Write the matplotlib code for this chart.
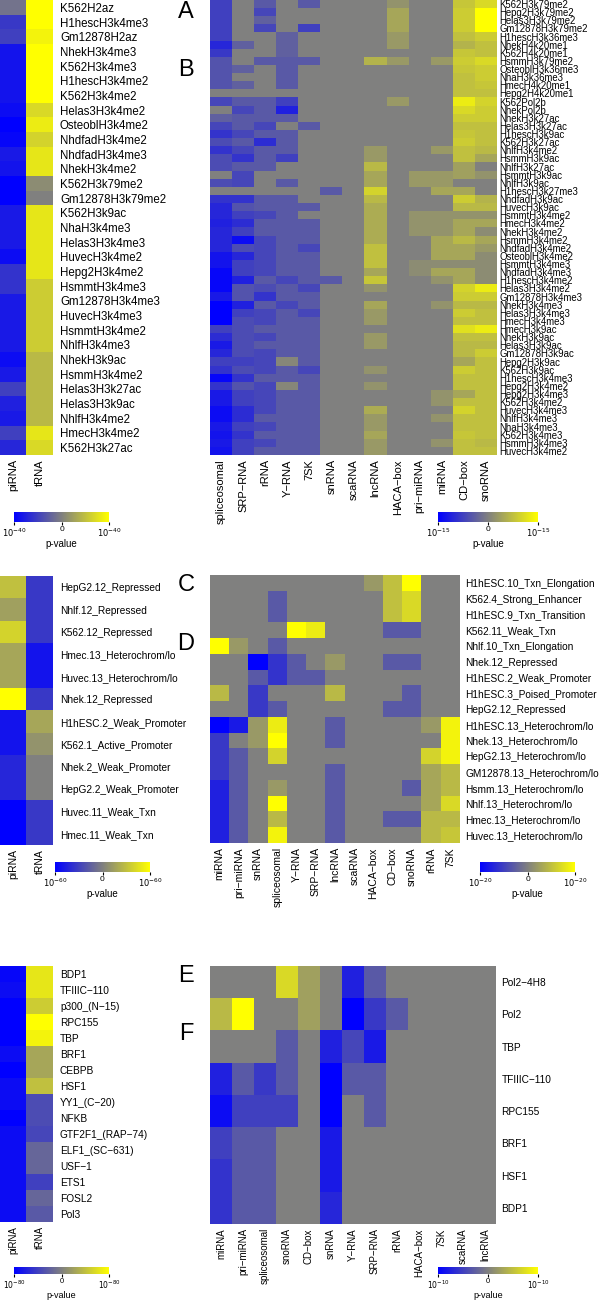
import numpy as np
import matplotlib
matplotlib.use('Agg')
import matplotlib.pyplot as plt
from matplotlib.colors import LinearSegmentedColormap

plt.rcParams['font.family'] = ['Liberation Sans', 'DejaVu Sans']

# colour values are signed, scaled p-values: -1 = strongest depletion (blue), +1 = strongest enrichment (yellow)

# ---- panel A ----
a_cols = ['piRNA', 'tRNA']
a_rows = ['K562H2az', 'H1hescH3k4me3', 'Gm12878H2az', 'NhekH3k4me3', 'K562H3k4me3',
          'H1hescH3k4me2', 'K562H3k4me2', 'Helas3H3k4me2', 'OsteoblH3k4me2', 'NhdfadH3k4me2',
          'NhdfadH3k4me3', 'NhekH3k4me2', 'K562H3k79me2', 'Gm12878H3k79me2', 'K562H3k9ac',
          'NhaH3k4me3', 'Helas3H3k4me3', 'HuvecH3k4me2', 'Hepg2H3k4me2', 'HsmmtH3k4me3',
          'Gm12878H3k4me3', 'HuvecH3k4me3', 'HsmmtH3k4me2', 'NhlfH3k4me3', 'NhekH3k9ac',
          'HsmmH3k4me2', 'Helas3H3k27ac', 'Helas3H3k9ac', 'NhlfH3k4me2', 'HmecH3k4me2', 'K562H3k27ac']
a_pirna = [-0.1, -0.55, -0.5, -0.85, -0.85, -0.85, -0.85, -0.9, -1.0, -0.95,
           -0.8, -0.85, -1.0, -1.0, -0.8, -0.8, -0.8, -0.9, -0.6, -0.6,
           -0.8, -0.8, -0.8, -0.8, -0.9, -0.8, -0.5, -0.75, -0.8, -0.5, -0.7]
a_trna = [1.0, 1.0, 0.9, 1.0, 1.0, 1.0, 1.0, 0.7, 0.85, 0.65,
          0.8, 0.8, 0.1, 0.0, 0.8, 0.8, 0.8, 0.8, 0.8, 0.6,
          0.6, 0.6, 0.6, 0.6, 0.45, 0.45, 0.45, 0.45, 0.45, 0.8, 0.7]

# ---- panel B ----
b_cols = ['spliceosomal', 'SRP\u2212RNA', 'rRNA', 'Y\u2212RNA', '7SK', 'snRNA', 'scaRNA',
          'lncRNA', 'HACA\u2212box', 'pri\u2212miRNA', 'miRNA', 'CD\u2212box', 'snoRNA']
b_rows = ['K562H3k79me2', 'Hepg2H3k79me2', 'Helas3H3k79me2', 'Gm12878H3k79me2', 'H1hescH3k36me3',
          'NhekH4k20me1', 'K562H4k20me1', 'HsmmH3k79me2', 'OsteoblH3k36me3', 'NhaH3k36me3',
          'HmecH4k20me1', 'Hepg2H4k20me1', 'K562Pol2b', 'NhekPol2b', 'NhekH3k27ac',
          'Helas3H3k27ac', 'H1hescH3k9ac', 'K562H3k27ac', 'NhlfH3k4me2', 'HsmmH3k9ac',
          'NhlfH3k27ac', 'HsmmtH3k9ac', 'NhlfH3k9ac', 'H1hescH3k27me3', 'NhdfadH3k9ac',
          'HuvecH3k9ac', 'HsmmtH3k4me2', 'HmecH3k4me2', 'NhekH3k4me2', 'HsmmH3k4me2',
          'NhdfadH3k4me2', 'OsteoblH3k4me2', 'HsmmtH3k4me3', 'NhdfadH3k4me3', 'H1hescH3k4me2',
          'Helas3H3k4me2', 'Gm12878H3k4me3', 'NhekH3k4me3', 'Helas3H3k4me3', 'HmecH3k4me3',
          'HmecH3k9ac', 'NhekH3k9ac', 'Helas3H3k9ac', 'Gm12878H3k9ac', 'Hepg2H3k9ac',
          'K562H3k9ac', 'H1hescH3k4me3', 'Hepg2H3k4me2', 'Hepg2H3k4me3', 'K562H3k4me2',
          'HuvecH3k4me3', 'NhlfH3k4me3', 'NhaH3k4me3', 'K562H3k4me3', 'HsmmH3k4me3', 'HuvecH3k4me2']
b_vals = [
    [-0.5, 0, -0.3, 0, -0.3, 0, 0, 0, 0.15, 0, 0, 0.55, 0.7],
    [-0.5, 0, -0.45, 0, 0, 0, 0, 0, 0.3, 0, 0, 0.6, 1.0],
    [-0.5, 0, -0.25, 0, 0, 0, 0, 0, 0.3, 0, 0, 0.6, 1.0],
    [-0.5, 0, -0.45, 0, -0.5, 0, 0, 0, 0.3, 0, 0, 0.6, 1.0],
    [-0.5, 0, 0, -0.25, 0, 0, 0, 0, 0.2, 0, 0, 0.5, 0.6],
    [-0.7, -0.25, 0, -0.25, 0, 0, 0, 0, 0.2, 0, 0, 0.4, 0.5],
    [-0.55, 0, 0, -0.25, 0, 0, 0, 0, 0, 0, 0, 0.55, 0.5],
    [-0.35, 0, -0.3, -0.3, -0.3, 0, 0, 0.4, 0.2, 0, 0.2, 0.6, 0.7],
    [-0.35, -0.25, 0, -0.3, 0, 0, 0, 0, 0, 0, 0, 0.55, 0.6],
    [-0.35, 0, 0, -0.3, 0, 0, 0, 0, 0, 0, 0, 0.5, 0.6],
    [-0.35, -0.25, 0, -0.3, 0, 0, 0, 0, 0, 0, 0, 0.5, 0.55],
    [0, 0, 0, 0, 0, 0, 0, 0, 0, 0, 0, 0.5, 0.5],
    [-0.45, -0.3, -0.3, -0.5, 0, 0, 0, 0, 0.2, 0, 0, 0.85, 0.65],
    [0, -0.45, -0.3, -0.75, 0, 0, 0, 0, 0, 0, 0, 0.7, 0.6],
    [-0.25, -0.3, -0.3, -0.3, 0, 0, 0, 0, 0, 0, 0, 0.6, 0.6],
    [-0.45, -0.3, -0.45, 0, -0.3, 0, 0, 0, 0, 0, 0, 0.5, 0.5],
    [-0.6, -0.45, -0.3, -0.3, 0, 0, 0, 0, 0, 0, 0, 0.55, 0.5],
    [-0.4, -0.3, -0.65, -0.3, 0, 0, 0, 0, 0, 0, 0, 0.6, 0.5],
    [-0.6, -0.45, -0.3, -0.3, 0, 0, 0, 0.2, 0, 0, 0.2, 0.5, 0.45],
    [-0.4, -0.6, -0.3, -0.5, 0, 0, 0, 0.2, 0, 0, 0, 0.5, 0.3],
    [-0.4, -0.3, -0.3, 0, 0, 0, 0, 0.45, 0, 0, 0, 0.25, 0],
    [0, -0.45, 0, 0, 0, 0, 0, 0.3, 0, 0.2, 0.2, 0.25, 0.15],
    [-0.4, -0.45, 0, -0.3, 0, 0, 0, 0.3, 0, 0.2, 0.2, 0, 0],
    [0, 0, 0, 0, 0, -0.3, 0, 0.65, 0, 0, 0.3, 0.3, 0],
    [-0.6, -0.6, -0.3, -0.3, 0, 0, 0, 0.45, 0, 0, 0, 0.6, 0.4],
    [-0.7, -0.35, -0.3, -0.3, -0.3, 0, 0, 0.35, 0, 0, 0, 0.45, 0.45],
    [-0.7, -0.5, -0.45, -0.3, 0, 0, 0, 0.35, 0, 0.15, 0.15, 0.15, 0.15],
    [-0.75, -0.65, -0.3, -0.3, -0.3, 0, 0, 0.35, 0, 0.15, 0.15, 0.3, 0.3],
    [-0.7, -0.5, -0.3, -0.3, -0.3, 0, 0, 0.35, 0, 0.15, 0.15, 0.3, 0.1],
    [-0.7, -0.9, -0.45, -0.3, -0.3, 0, 0, 0.35, 0, 0, 0.3, 0.45, 0.3],
    [-0.7, -0.4, -0.45, -0.3, -0.45, 0, 0, 0.5, 0, 0, 0.3, 0.3, 0.2],
    [-0.85, -0.7, -0.45, -0.3, -0.3, 0, 0, 0.5, 0, 0, 0.3, 0.3, 0.1],
    [-0.85, -0.5, -0.45, -0.3, -0.3, 0, 0, 0.5, 0, 0.1, 0.1, 0.1, 0.1],
    [-0.95, -0.5, -0.45, -0.3, -0.3, 0, 0, 0.3, 0, 0.1, 0.3, 0.3, 0.1],
    [-0.95, -0.75, -0.3, -0.45, -0.3, -0.3, 0, 0.55, 0, 0, 0.15, 0.3, 0.1],
    [-0.95, -0.35, -0.4, -0.3, -0.45, 0, 0, 0.15, 0, 0, 0, 0.65, 0.85],
    [-0.8, -0.35, -0.6, -0.3, -0.3, 0, 0, 0, 0, 0, 0, 0.6, 0.6],
    [-1.0, -0.75, -0.3, -0.45, -0.3, 0, 0, 0.3, 0, 0, 0.15, 0.45, 0.45],
    [-1.0, -0.5, -0.45, -0.3, -0.45, 0, 0, 0.2, 0, 0, 0, 0.6, 0.5],
    [-1.0, -0.4, -0.45, -0.3, -0.3, 0, 0, 0.2, 0, 0, 0, 0.5, 0.5],
    [-0.5, -0.4, -0.3, -0.3, -0.3, 0, 0, 0, 0, 0, 0, 0.75, 0.85],
    [-0.65, -0.4, -0.45, -0.3, -0.3, 0, 0, 0.2, 0, 0, 0, 0.5, 0.5],
    [-0.8, -0.4, -0.3, -0.3, -0.3, 0, 0, 0.2, 0, 0, 0, 0.45, 0.45],
    [-0.7, -0.4, -0.45, -0.3, -0.3, 0, 0, 0, 0, 0, 0, 0.45, 0.6],
    [-0.5, -0.5, -0.45, 0.05, -0.3, 0, 0, 0, 0, 0, 0, 0.3, 0.5],
    [-0.6, -0.4, -0.45, -0.3, -0.45, 0, 0, 0.15, 0, 0, 0, 0.6, 0.5],
    [-0.95, -0.6, -0.3, -0.3, -0.3, 0, 0, 0, 0, 0, 0, 0.5, 0.5],
    [-0.6, -0.35, -0.45, 0.05, -0.3, 0, 0, 0.15, 0, 0, 0, 0.5, 0.5],
    [-0.8, -0.5, -0.45, -0.3, -0.3, 0, 0, 0, 0, 0, 0.15, 0.3, 0.5],
    [-0.8, -0.5, -0.45, -0.3, -0.3, 0, 0, 0, 0, 0, 0.15, 0.5, 0.5],
    [-0.9, -0.65, -0.45, -0.3, -0.3, 0, 0, 0.35, 0, 0, 0, 0.65, 0.5],
    [-0.9, -0.65, -0.3, -0.3, -0.3, 0, 0, 0.2, 0, 0, 0.15, 0.5, 0.5],
    [-0.8, -0.5, -0.45, -0.3, -0.3, 0, 0, 0.2, 0, 0, 0, 0.5, 0.5],
    [-0.85, -0.6, -0.3, -0.3, -0.3, 0, 0, 0.3, 0, 0, 0, 0.55, 0.5],
    [-0.8, -0.5, -0.45, -0.3, -0.3, 0, 0, 0.2, 0, 0, 0.15, 0.5, 0.45],
    [-0.85, -0.5, -0.3, -0.3, -0.3, 0, 0, 0.2, 0, 0, 0, 0.5, 0.5],
]

# ---- panel C ----
c_rows = ['HepG2.12_Repressed', 'Nhlf.12_Repressed', 'K562.12_Repressed', 'Hmec.13_Heterochrom/lo',
          'Huvec.13_Heterochrom/lo', 'Nhek.12_Repressed', 'H1hESC.2_Weak_Promoter',
          'K562.1_Active_Promoter', 'Nhek.2_Weak_Promoter', 'HepG2.2_Weak_Promoter',
          'Huvec.11_Weak_Txn', 'Hmec.11_Weak_Txn']
c_pirna = [0.5, 0.25, 0.65, 0.3, 0.3, 1.0, -0.85, -0.85, -0.7, -0.7, -1.0, -1.0]
c_trna = [-0.55, -0.55, -0.55, -0.85, -0.85, -0.55, 0.3, 0.15, 0.0, 0.0, -0.55, -0.55]

# ---- panel D ----
d_cols = ['miRNA', 'pri\u2212miRNA', 'snRNA', 'spliceosomal', 'Y\u2212RNA', 'SRP\u2212RNA', 'lncRNA',
          'scaRNA', 'HACA\u2212box', 'CD\u2212box', 'snoRNA', 'rRNA', '7SK']
d_rows = ['H1hESC.10_Txn_Elongation', 'K562.4_Strong_Enhancer', 'H1hESC.9_Txn_Transition',
          'K562.11_Weak_Txn', 'Nhlf.10_Txn_Elongation', 'Nhek.12_Repressed',
          'H1hESC.2_Weak_Promoter', 'H1hESC.3_Poised_Promoter', 'HepG2.12_Repressed',
          'H1hESC.13_Heterochrom/lo', 'Nhek.13_Heterochrom/lo', 'HepG2.13_Heterochrom/lo',
          'GM12878.13_Heterochrom/lo', 'Hsmm.13_Heterochrom/lo', 'Nhlf.13_Heterochrom/lo',
          'Hmec.13_Heterochrom/lo', 'Huvec.13_Heterochrom/lo']
d_vals = [
    [0, 0, 0, 0, 0, 0, 0, 0, 0.2, 0.5, 1.0, 0, 0],
    [0, 0, 0, -0.3, 0, 0, 0, 0, 0, 0.5, 0.7, 0, 0],
    [0, 0, 0, -0.3, 0, 0, 0, 0, 0, 0.5, 0.7, 0, 0],
    [0, 0, 0, 0, 1.0, 0.85, 0, 0, 0, -0.3, -0.3, 0, 0],
    [1.0, 0.2, 0, -0.3, 0, 0, 0, 0, 0, 0, 0, 0, 0],
    [0, 0, -1.0, -0.6, -0.3, 0, 0.2, 0, 0, -0.3, -0.3, 0, 0],
    [0, 0, -0.3, -0.6, -0.3, -0.3, 0, 0, 0, 0, 0, 0, 0],
    [0.45, 0, -0.55, 0, 0, 0, 0.45, 0, 0, 0, -0.3, 0, 0],
    [0, 0, -0.55, -0.3, 0, 0, 0, 0, 0, -0.3, -0.3, 0, 0],
    [-1.0, -0.8, 0.2, 0.85, 0, 0, -0.3, 0, 0, 0, 0, 0.2, 0.9],
    [-0.55, 0, 0.2, 1.0, 0, 0, -0.3, 0, 0, 0, 0, 0, 0.9],
    [-0.55, -0.3, 0, 0.65, 0, 0, 0, 0, 0, 0, 0, 0.65, 0.9],
    [-0.55, -0.3, 0, 0, 0, 0, -0.3, 0, 0, 0, 0, 0.3, 0.45],
    [-0.75, -0.3, 0, 0.2, 0, 0, -0.3, 0, 0, 0, -0.3, 0.3, 0.45],
    [-0.75, -0.3, 0, 1.0, 0, 0, -0.3, 0, 0, 0, 0, 0.3, 0.7],
    [-0.75, -0.3, 0, 0.45, 0, 0, -0.3, 0, 0, -0.3, -0.3, 0.45, 0.45],
    [-0.75, -0.3, 0, 0.9, 0, 0, -0.3, 0, 0, 0, 0, 0.45, 0.55],
]

# ---- panel E ----
e_rows = ['BDP1', 'TFIIIC\u2212110', 'p300_(N\u221215)', 'RPC155', 'TBP', 'BRF1', 'CEBPB', 'HSF1',
          'YY1_(C\u221220)', 'NFKB', 'GTF2F1_(RAP\u221274)', 'ELF1_(SC\u2212631)', 'USF\u22121',
          'ETS1', 'FOSL2', 'Pol3']
e_pirna = [-0.95, -0.9, -1.0, -1.0, -1.0, -0.9, -1.0, -0.9, -0.9, -1.0, -0.9, -0.9,
           -0.9, -0.9, -0.9, -0.9]
e_trna = [0.8, 0.8, 0.6, 1.0, 0.9, 0.3, 0.3, 0.5, -0.4, -0.4, -0.45, -0.2,
          -0.2, -0.5, -0.2, -0.3]

# ---- panel F ----
f_cols = ['miRNA', 'pri\u2212miRNA', 'spliceosomal', 'snoRNA', 'CD\u2212box', 'snRNA', 'Y\u2212RNA',
          'SRP\u2212RNA', 'rRNA', 'HACA\u2212box', '7SK', 'scaRNA', 'lncRNA']
f_rows = ['Pol2\u22124H8', 'Pol2', 'TBP', 'TFIIIC\u2212110', 'RPC155', 'BRF1', 'HSF1', 'BDP1']
f_vals = [
    [0, 0, 0, 0.7, 0.25, 0, -0.75, -0.3, 0, 0, 0, 0, 0],
    [0.45, 1.0, 0, 0, 0.25, 0, -1.0, -0.55, -0.3, 0, 0, 0, 0],
    [0, 0, 0, -0.3, 0, -0.75, -0.45, -0.8, 0, 0, 0, 0, 0],
    [-0.75, -0.3, -0.55, -0.3, 0, -1.0, -0.3, -0.3, 0, 0, 0, 0, 0],
    [-0.9, -0.5, -0.5, -0.5, 0, -1.0, 0, -0.3, 0, 0, 0, 0, 0],
    [-0.5, -0.3, -0.3, 0, 0, -0.8, 0, 0, 0, 0, 0, 0, 0],
    [-0.6, -0.3, -0.3, 0, 0, -0.8, 0, 0, 0, 0, 0, 0, 0],
    [-0.6, -0.3, -0.3, 0, 0, -0.7, 0, 0, 0, 0, 0, 0, 0],
]

exps = {'A': 40, 'B': 15, 'C': 60, 'D': 20, 'E': 80, 'F': 10}

cmap = LinearSegmentedColormap.from_list('bgy', [(0, 0, 1), (0.5, 0.5, 0.5), (1, 1, 0)])

W, H = 600, 1300
fig = plt.figure(figsize=(6, 13), dpi=100)


def add_px(x0, y0, w, h):
    return fig.add_axes([x0 / W, 1 - (y0 + h) / H, w / W, h / H])


def heat(box, data, rows, cols, fs_y, fs_x, pad):
    ax = add_px(*box)
    im = ax.imshow(np.array(data), cmap=cmap, vmin=-1, vmax=1, aspect='auto', interpolation='nearest')
    ax.yaxis.tick_right()
    ax.set_yticks(range(len(rows)))
    ax.set_yticklabels(rows, fontsize=fs_y)
    ax.set_xticks(range(len(cols)))
    ax.set_xticklabels(cols, rotation=90, fontsize=fs_x)
    ax.tick_params(length=0, pad=pad)
    ax.tick_params(axis='x', pad=3)
    for s in ax.spines.values():
        s.set_visible(False)
    return im


def cbar(im, box, e, fs=6, lfs=7):
    cax = add_px(*box)
    cb = fig.colorbar(im, cax=cax, orientation='horizontal', ticks=[-1, 0, 1])
    cb.set_ticklabels(['$10^{-%d}$' % e, '0', '$10^{-%d}$' % e])
    cb.outline.set_visible(False)
    cax.tick_params(labelsize=fs, length=2, pad=1)
    cax.set_xlabel('p-value', fontsize=lfs, labelpad=0)


# A / B
im = heat((0, 0, 53, 455), np.column_stack([a_pirna, a_trna]), a_rows, a_cols, 8.3, 8, 5)
cbar(im, (14, 512, 95, 10), exps['A'])
im = heat((210, 0, 287, 455), b_vals, b_rows, b_cols, 6.9, 8, 1.5)
cbar(im, (438, 512, 100, 10), exps['B'])

# C / D
im = heat((0, 576, 53, 269), np.column_stack([c_pirna, c_trna]), c_rows, a_cols, 7.3, 7.5, 5)
cbar(im, (55, 862, 95, 10), exps['C'])
im = heat((210, 575, 250, 268), d_vals, d_rows, d_cols, 7.3, 7.5, 4)
cbar(im, (480, 862, 95, 10), exps['D'])

# E / F
im = heat((0, 966, 53, 256), np.column_stack([e_pirna, e_trna]), e_rows, a_cols, 7.3, 7.0, 5)
cbar(im, (14, 1267, 95, 7), exps['E'], 5.5, 6.5)
im = heat((210, 966, 286, 258), f_vals, f_rows, f_cols, 7.3, 7.0, 4)
cbar(im, (438, 1267, 100, 7), exps['F'], 5.5, 6.5)

for letter, y in [('A', 12), ('B', 70), ('C', 585), ('D', 644), ('E', 976), ('F', 1034)]:
    fig.text(186 / W, 1 - y / H, letter, fontsize=17, ha='center', va='center')

fig.savefig('out.png', dpi=100)
